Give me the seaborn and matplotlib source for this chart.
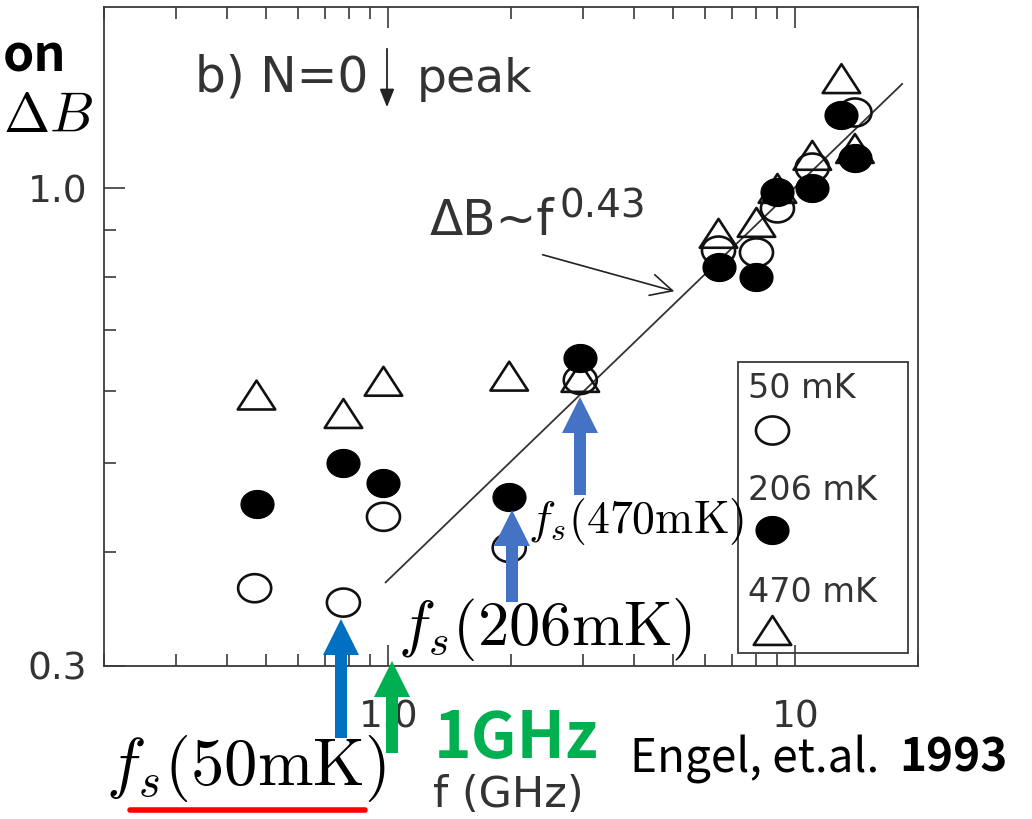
import numpy as np
import matplotlib
matplotlib.use("Agg")
import matplotlib.pyplot as plt
import seaborn as sns
from matplotlib.path import Path
from matplotlib.markers import MarkerStyle
from matplotlib.patches import FancyArrow, FancyArrowPatch, Rectangle
from matplotlib.lines import Line2D
from matplotlib.ticker import FixedLocator, FixedFormatter, NullFormatter, LogLocator

# Peak width of the N=0 (spin down) peak versus microwave frequency
freq_50mK = [0.469, 0.775, 0.972, 1.98, 2.96, 6.47, 8.02, 9.03, 11.0, 14.0]
width_50mK = [0.365, 0.352, 0.437, 0.404, 0.617, 0.855, 0.851, 0.951, 1.054, 1.211]

freq_206mK = [0.476, 0.775, 0.972, 1.98, 2.96, 6.47, 8.02, 9.03, 11.0, 12.97, 14.0]
width_206mK = [0.451, 0.500, 0.476, 0.459, 0.652, 0.820, 0.799, 0.990, 1.000, 1.202, 1.081]

freq_470mK = [0.474, 0.775, 0.972, 1.98, 2.96, 6.47, 8.02, 9.03, 11.0, 12.97, 14.0]
width_470mK = [0.594, 0.567, 0.615, 0.623, 0.621, 0.893, 0.918, 1.000, 1.087, 1.319, 1.106]

temperature_labels = ["50 mK", "206 mK", "470 mK"]

# Power-law guide  dB ~ f^0.43
fit_exponent = 0.43
fit_prefactor = 0.373
fit_freq_range = [0.983, 18.3]

x_ticks = [1, 10]
x_tick_labels = ["1.0", "10"]
y_ticks = [0.3, 1.0]
y_tick_labels = ["0.3", "1.0"]
y_minor_ticks = [0.4, 0.5, 0.6, 0.7, 0.8, 0.9]

sns.set_style("ticks")
plt.rcParams["font.family"] = ["DejaVu Sans"]
plt.rcParams["mathtext.fontset"] = "cm"

W, H = 1032, 819
fig = plt.figure(figsize=(W / 100, H / 100), dpi=100)
fig.patch.set_facecolor("white")


def P(x, y):
    """Pixel position (from top-left) to figure fraction."""
    return x / W, 1 - y / H


ax_l, ax_r, ax_t, ax_b = 104, 918, 7, 666
ax = fig.add_axes([ax_l / W, 1 - ax_b / H, (ax_r - ax_l) / W, (ax_b - ax_t) / H])
ax.set_xscale("log")
ax.set_yscale("log")
ax.set_xlim(0.2, 20)
ax.set_ylim(0.3, 1.58)

ink = "#111111"
axis_ink = "#3a3a3a"
label_ink = "#333333"

# Slightly flattened marker shapes
theta = np.linspace(0, 2 * np.pi, 73)
ellipse = MarkerStyle(Path(np.column_stack([np.cos(theta), 0.85 * np.sin(theta)]), closed=True))
triangle = MarkerStyle(Path([(0, 0.77), (-1, -0.77), (1, -0.77), (0, 0.77)], closed=True))

circle_s = 23.8 ** 2
tri_s = 27.0 ** 2

# Fit line
fit_f = np.array(fit_freq_range)
sns.lineplot(x=fit_f, y=fit_prefactor * fit_f ** fit_exponent, ax=ax,
             color="#333333", linewidth=1.3, zorder=2)

sns.scatterplot(x=freq_470mK, y=width_470mK, marker=triangle, s=tri_s,
                facecolor="none", edgecolor=ink, linewidth=1.9, ax=ax, zorder=3)
sns.scatterplot(x=freq_50mK, y=width_50mK, marker=ellipse, s=circle_s,
                facecolor="none", edgecolor=ink, linewidth=1.9, ax=ax, zorder=4)
sns.scatterplot(x=freq_206mK, y=width_206mK, marker=ellipse, s=circle_s,
                color="black", edgecolor="black", linewidth=0.8, ax=ax, zorder=5)

# Axes styling
for sp in ax.spines.values():
    sp.set_color(axis_ink)
    sp.set_linewidth(1.3)
ax.xaxis.set_major_locator(FixedLocator(x_ticks))
ax.xaxis.set_major_formatter(FixedFormatter(x_tick_labels))
ax.xaxis.set_minor_locator(LogLocator(base=10, subs=np.arange(2, 10)))
ax.xaxis.set_minor_formatter(NullFormatter())
ax.yaxis.set_major_locator(FixedLocator(y_ticks))
ax.yaxis.set_major_formatter(FixedFormatter(y_tick_labels))
ax.yaxis.set_minor_locator(FixedLocator(y_minor_ticks))
ax.yaxis.set_minor_formatter(NullFormatter())
ax.tick_params(which="both", direction="in", top=True, right=False,
               color=axis_ink, width=1.2, labelcolor=label_ink)
ax.tick_params(which="major", length=15)
ax.tick_params(which="minor", length=8.5)
ax.tick_params(axis="x", which="major", pad=24, labelsize=27)
ax.tick_params(axis="y", which="major", pad=12, labelsize=27)
ax.set_xlabel("")
ax.set_ylabel("")

# Panel title with spin arrow
fig.text(*P(195, 92), "b) N=0", fontsize=35, color=label_ink, ha="left", va="baseline")
fig.text(*P(417, 92), "peak", fontsize=34, color=label_ink, ha="left", va="baseline")
fig.add_artist(FancyArrowPatch(
    P(387, 46), P(387, 110), transform=fig.transFigure,
    arrowstyle="-|>,head_length=0.5,head_width=0.2", mutation_scale=22,
    color="#222222", linewidth=1.3))

# Fit annotation
fig.text(*P(430, 235), "\u0394B~f", fontsize=35, color=label_ink, ha="left", va="baseline")
fig.text(*P(559, 218), "0.43", fontsize=28, color=label_ink, ha="left", va="baseline")
fig.add_artist(FancyArrowPatch(
    P(540, 254), P(677, 292), transform=fig.transFigure,
    arrowstyle="->,head_length=0.7,head_width=0.35", mutation_scale=22,
    color="#222222", linewidth=1.2))

# Temperature key
fig.add_artist(Rectangle(P(738, 653), (908 - 738) / W, (653 - 362) / H,
                         transform=fig.transFigure, fill=False,
                         edgecolor=axis_ink, linewidth=1.3))
key_text_y = [388, 490, 592]
key_marker_y = [430, 530, 630]
key_styles = [
    dict(marker=ellipse, markersize=23.8, mfc="none", mec=ink, mew=1.9),
    dict(marker=ellipse, markersize=23.8, mfc="black", mec="black", mew=0.8),
    dict(marker=triangle, markersize=27.0, mfc="none", mec=ink, mew=1.9),
]
for lab, ty, my, st in zip(temperature_labels, key_text_y, key_marker_y, key_styles):
    fig.text(*P(748, ty), lab, fontsize=24, color=label_ink, ha="left", va="center")
    fig.add_artist(Line2D([772 / W], [1 - my / H], transform=fig.transFigure,
                          linestyle="none", **st))

fig.text(*P(433, 795), "f (GHz)", fontsize=31, color=label_ink, ha="left", va="center")


# Overlay arrows
def up_arrow(x, y_tail, y_tip, color):
    x0, y0 = P(x, y_tail)
    _, y1 = P(x, y_tip)
    fig.add_artist(FancyArrow(x0, y0, 0, y1 - y0, width=12 / W, head_width=36 / W,
                              head_length=36 / H, length_includes_head=True,
                              transform=fig.transFigure, color=color, linewidth=0))


up_arrow(580, 495, 397, "#4472C4")
up_arrow(512, 602, 510, "#4472C4")
up_arrow(341, 738, 619, "#0070C0")
up_arrow(392, 753, 661, "#00B050")

fig.text(*P(528, 533), r"$f_s(470\mathrm{mK})$", fontsize=33, color="black",
         ha="left", va="baseline")
fig.text(*P(398, 645), r"$f_s(206\mathrm{mK})$", fontsize=45, color="black",
         ha="left", va="baseline")
fig.text(*P(106, 785), r"$f_s(50\mathrm{mK})$", fontsize=48, color="black",
         ha="left", va="baseline")
fig.add_artist(Line2D([130 / W, 365 / W], [1 - 810 / H, 1 - 810 / H],
                      transform=fig.transFigure, color="#FF0000", linewidth=4))

cjk = ["Noto Sans CJK JP", "DejaVu Sans"]
fig.text(*P(434, 758), "1GHz", fontsize=46, fontweight="bold", color="#00B050",
         family=cjk, ha="left", va="baseline")
fig.text(*P(630, 772), "Engel, et.al.", fontsize=33, color="black",
         family=cjk, ha="left", va="baseline")
fig.text(*P(899, 772), "1993", fontsize=33, fontweight="bold", color="black",
         family=cjk, ha="left", va="baseline")

# Slide text at the left edge
fig.text(*P(3, 72), "on", fontsize=36, fontweight="bold", color="black",
         family=cjk, ha="left", va="baseline")
fig.text(*P(3, 132), r"$\Delta B$", fontsize=40, color="black",
         ha="left", va="baseline")

fig.savefig("out.png", dpi=100, facecolor="white")
